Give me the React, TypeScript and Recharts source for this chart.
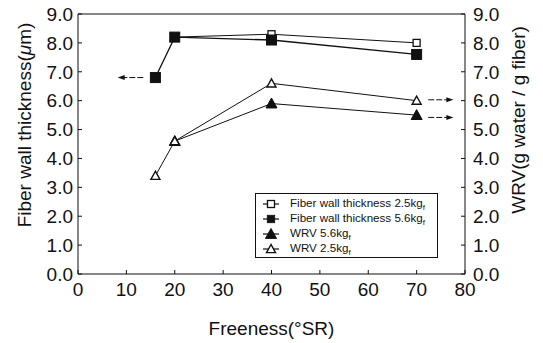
import React from "react";
import { LineChart, Line, XAxis, YAxis, ReferenceLine } from "recharts";

// freeness (°SR) on x, thickness (µm) / WRV on the two y axes
const freeness = [16, 20, 40, 70];
const fwt25 = [null, 8.2, 8.3, 8.0];
const fwt56 = [6.8, 8.2, 8.1, 7.6];
const wrv56 = [null, 4.6, 5.9, 5.5];
const wrv25 = [3.4, 4.6, 6.6, 6.0];

const xTicks = [0, 10, 20, 30, 40, 50, 60, 70, 80];
const yTicks = [0, 1, 2, 3, 4, 5, 6, 7, 8, 9];

// arrows pointing to the axis each group belongs to
const arrowLeft = [{ x: 13.5, y: 6.8 }, { x: 8.2, y: 6.8 }];
const arrowRight1 = [{ x: 72.4, y: 6.03 }, { x: 77.6, y: 6.03 }];
const arrowRight2 = [{ x: 72.4, y: 5.42 }, { x: 77.6, y: 5.42 }];

const data = freeness.map((f, i) => ({
  f,
  fwt25: fwt25[i],
  fwt56: fwt56[i],
  wrv56: wrv56[i],
  wrv25: wrv25[i],
}));

const FONT = '"Liberation Sans", Arial, Helvetica, sans-serif';
const INK = "#111";

type Kind = "sqOpen" | "sqFill" | "triFill" | "triOpen";

function Marker({ kind, cx, cy }: { kind: Kind; cx: number; cy: number }) {
  if (kind === "sqOpen")
    return <rect x={cx - 3.5} y={cy - 3.5} width={7} height={7} fill="#fff" stroke={INK} strokeWidth={1.3} />;
  if (kind === "sqFill")
    return <rect x={cx - 5} y={cy - 5} width={10} height={10} fill={INK} stroke={INK} />;
  const r = kind === "triFill" ? 5.5 : 4.5;
  const pts = `${cx},${cy - r} ${cx - r},${cy + r * 0.8} ${cx + r},${cy + r * 0.8}`;
  return kind === "triFill" ? (
    <polygon points={pts} fill={INK} stroke={INK} />
  ) : (
    <polygon points={pts} fill="#fff" stroke={INK} strokeWidth={1.4} />
  );
}

const dot = (kind: Kind) => (p: any) => {
  if (p.value == null || p.cx == null || p.cy == null) return <g key={p.index} />;
  return (
    <g key={p.index}>
      <Marker kind={kind} cx={p.cx} cy={p.cy} />
    </g>
  );
};

const arrowShape = (p: any) => {
  const { x1, y1, x2, y2 } = p;
  const dir = x2 > x1 ? 1 : -1;
  return (
    <g>
      <line x1={x1} y1={y1} x2={x2 - dir * 4} y2={y2} stroke={INK} strokeWidth={1} strokeDasharray="6 2" />
      <polygon points={`${x2},${y2} ${x2 - dir * 7},${y2 - 2.5} ${x2 - dir * 7},${y2 + 2.5}`} fill={INK} />
    </g>
  );
};

const legendItems: { kind: Kind; label: string }[] = [
  { kind: "sqOpen", label: "Fiber wall thickness 2.5kg" },
  { kind: "sqFill", label: "Fiber wall thickness 5.6kg" },
  { kind: "triFill", label: "WRV 5.6kg" },
  { kind: "triOpen", label: "WRV 2.5kg" },
];

function ChartLegend() {
  return (
    <div
      style={{
        position: "absolute",
        left: 255,
        top: 193,
        width: 183,
        height: 65,
        border: `1px solid ${INK}`,
        background: "#fff",
        fontFamily: FONT,
        fontSize: 11.6,
        color: INK,
        padding: "2px 0 0 6px",
        boxSizing: "border-box",
      }}
    >
      {legendItems.map((it) => (
        <div key={it.label} style={{ display: "flex", alignItems: "center", height: 15 }}>
          <svg width={18} height={12} style={{ marginRight: 10, flexShrink: 0 }}>
            <line x1={1} y1={6} x2={17} y2={6} stroke={INK} strokeWidth={1.2} />
            <g transform={it.kind === "sqFill" ? "translate(9,6) scale(0.75) translate(-9,-6)" : undefined}>
              <Marker kind={it.kind} cx={9} cy={6} />
            </g>
          </svg>
          <span style={{ whiteSpace: "nowrap", lineHeight: "15px" }}>
            {it.label}
            <span style={{ fontSize: 8, position: "relative", top: 3 }}>f</span>
          </span>
        </div>
      ))}
    </div>
  );
}

const tickStyle = { fill: INK, fontSize: 19, fontFamily: FONT };
const fmt = (v: number) => v.toFixed(1);

export default function App() {
  return (
    <div style={{ position: "absolute", left: 0, top: 0, width: 543, height: 343, background: "#fff" }}>
      <LineChart width={543} height={343} data={data} margin={{ top: 14, right: 0, bottom: 0, left: 0 }}>
        <XAxis
          dataKey="f"
          type="number"
          domain={[0, 80]}
          ticks={xTicks}
          tick={tickStyle}
          tickSize={-4}
          tickMargin={13}
          height={69}
          stroke={INK}
          label={{
            value: "Freeness(°SR)",
            position: "insideBottom",
            offset: 8,
            style: { fill: INK, fontSize: 19, fontFamily: FONT },
          }}
        />
        <YAxis
          yAxisId="l"
          domain={[0, 9]}
          ticks={yTicks}
          tickFormatter={fmt}
          tick={tickStyle}
          tickSize={-4}
          tickMargin={9}
          width={78}
          stroke={INK}
          label={{
            content: () => (
              <text
                transform="translate(31,125) rotate(-90)"
                textAnchor="middle"
                fill={INK}
                fontSize={19}
                fontFamily={FONT}
              >
                Fiber wall thickness(<tspan fontStyle="italic">μ</tspan>m)
              </text>
            ),
          }}
        />
        <YAxis
          yAxisId="r"
          orientation="right"
          domain={[0, 9]}
          ticks={yTicks}
          tickFormatter={fmt}
          tick={tickStyle}
          tickSize={-4}
          tickMargin={12}
          width={78}
          stroke={INK}
          label={{
            content: () => (
              <text
                transform="translate(525,120) rotate(-90)"
                textAnchor="middle"
                fill={INK}
                fontSize={19}
                fontFamily={FONT}
              >
                WRV(g water / g fiber)
              </text>
            ),
          }}
        />
        <ReferenceLine yAxisId="l" y={9} stroke={INK} strokeWidth={1} />
        <ReferenceLine yAxisId="l" segment={arrowLeft} shape={arrowShape} />
        <ReferenceLine yAxisId="l" segment={arrowRight1} shape={arrowShape} />
        <ReferenceLine yAxisId="l" segment={arrowRight2} shape={arrowShape} />
        <Line yAxisId="l" dataKey="fwt25" stroke={INK} strokeWidth={1} dot={dot("sqOpen")} isAnimationActive={false} />
        <Line yAxisId="l" dataKey="fwt56" stroke={INK} strokeWidth={1.3} dot={dot("sqFill")} isAnimationActive={false} />
        <Line yAxisId="r" dataKey="wrv56" stroke={INK} strokeWidth={1} dot={dot("triFill")} isAnimationActive={false} />
        <Line yAxisId="r" dataKey="wrv25" stroke={INK} strokeWidth={1} dot={dot("triOpen")} isAnimationActive={false} />
      </LineChart>
      <ChartLegend />
    </div>
  );
}
